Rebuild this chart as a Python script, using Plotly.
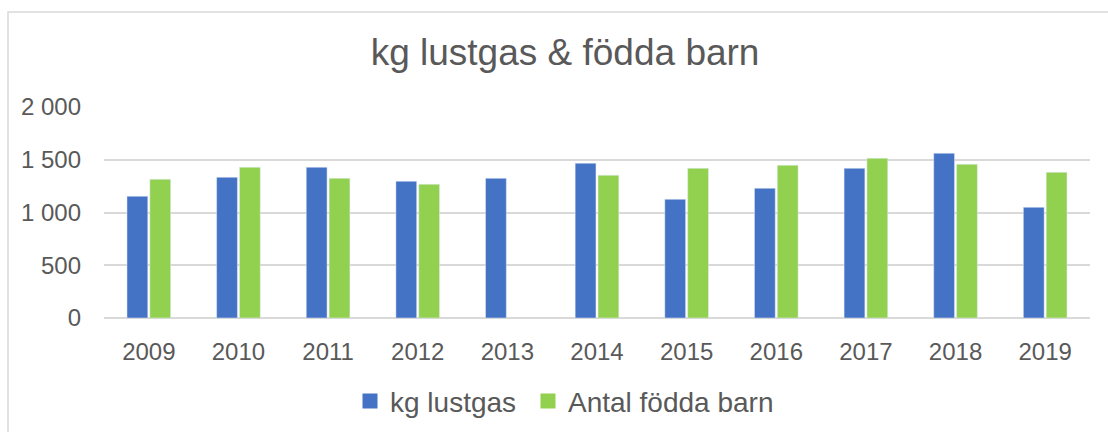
import plotly.graph_objects as go

years = ["2009", "2010", "2011", "2012", "2013", "2014", "2015", "2016", "2017", "2018", "2019"]
kg_lustgas = [1154, 1334, 1429, 1296, 1324, 1467, 1125, 1230, 1419, 1561, 1049]
fodda_barn = [1315, 1429, 1324, 1268, None, 1353, 1419, 1448, 1514, 1457, 1381]
y_ticks = [0, 500, 1000, 1500, 2000]
series_names = ["kg lustgas", "Antal födda barn"]
series_colors = ["#4472C4", "#92D050"]

FONT = "Liberation Sans, Arial, sans-serif"
GREY = "#595959"

fig = go.Figure()
for name, vals, col in zip(series_names, [kg_lustgas, fodda_barn], series_colors):
    fig.add_trace(go.Bar(x=years, y=vals, name=name, marker_color=col, showlegend=False,
                         legendgroup=name))
# legend entries with larger square swatches, one legend box per series
for name, col, lg in zip(series_names, series_colors, ["legend", "legend2"]):
    fig.add_trace(go.Scatter(x=[None], y=[None], mode="markers", name=name, legendgroup=name,
                             marker=dict(symbol="square", size=15, color=col), showlegend=True,
                             legend=lg))

legend_style = dict(orientation="h", xanchor="left", y=-0.395, yanchor="middle",
                    font=dict(size=28, color=GREY, family=FONT), itemwidth=30,
                    bgcolor="rgba(0,0,0,0)")

fig.update_layout(
    width=1108, height=432,
    margin=dict(l=104, r=18, t=107, b=114, autoexpand=False),
    paper_bgcolor="white", plot_bgcolor="white",
    separators=", ",
    font=dict(family=FONT, color=GREY, size=24),
    title=dict(text="kg lustgas & födda barn", x=0.51, xanchor="center",
               y=1 - 52 / 432, yanchor="middle",
               font=dict(size=37, color=GREY, family=FONT)),
    barmode="group", bargap=0.49, bargroupgap=0.09,
    showlegend=True,
    legend=dict(x=0.2495, **legend_style),
    legend2=dict(x=0.430, **legend_style),
    shapes=[dict(type="rect", xref="paper", yref="paper",
                 x0=(8 - 104) / 986, x1=1.2, y0=-1.0, y1=(318 - 12) / 211,
                 line=dict(color="#d9d9d9", width=1.5), fillcolor="rgba(0,0,0,0)", layer="below")],
)
fig.update_xaxes(showgrid=False, showline=False, ticks="", ticklabelstandoff=17, automargin=False,
                 tickfont=dict(size=24, color=GREY))
fig.update_yaxes(range=[0, 2000], tickvals=y_ticks, tickformat=",d", automargin=False,
                 showgrid=True, gridcolor="#d9d9d9", gridwidth=1.5,
                 zeroline=True, zerolinecolor="#d9d9d9", zerolinewidth=1.5,
                 showline=False, ticks="", ticklabelstandoff=22,
                 tickfont=dict(size=24, color=GREY))

fig.write_html("out.html", config={"displayModeBar": False},
               post_script="document.body.style.margin='0';document.body.style.overflow='hidden';")
